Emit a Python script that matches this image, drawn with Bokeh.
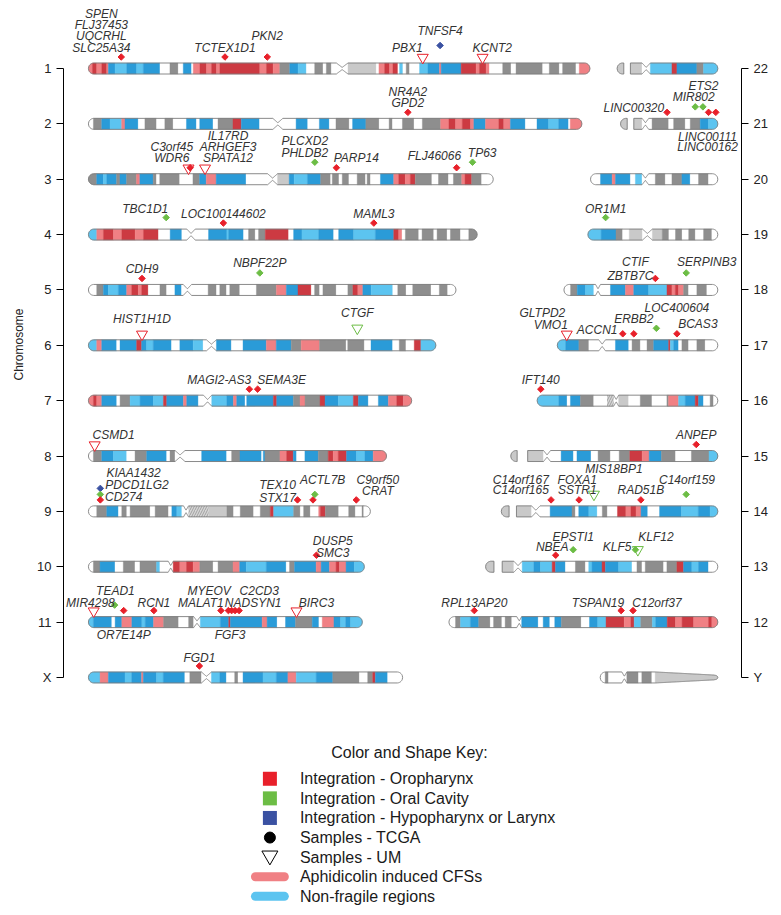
import math
from bokeh.plotting import figure
from bokeh.models import Range1d, FixedTicker, LinearAxis, ColumnDataSource, Title
from bokeh.core.properties import value
from bokeh.embed import file_html
from bokeh.resources import INLINE

# ---------------- data ----------------
LEFT_CHROMS = ["1", "2", "3", "4", "5", "6", "7", "8", "9", "10", "11", "X"]
RIGHT_CHROMS = ["22", "21", "20", "19", "18", "17", "16", "15", "14", "13", "12", "Y"]

CHROM_MB = {"1": 249.0, "2": 245.0, "3": 201.0, "4": 193.0, "5": 182.5, "6": 172.5,
            "7": 160.5, "8": 148.0, "9": 140.0, "10": 137.0, "11": 136.0, "X": 156.0,
            "12": 133.5, "13": 115.3, "14": 107.5, "15": 102.8, "16": 89.7, "17": 79.7,
            "18": 76.4, "19": 64.5, "20": 63.2, "21": 48.3, "22": 50.0, "Y": 58.4}

# band code + relative width (R/r fragile dark/light, B/b non-fragile dark/light,
# G/g grey, W white, C centromere, h hatched, t tapered heterochromatin, _ gap)
BANDS = {
    "1": "r12 R13 r15 R15 r5 B20 b35 B30 b20 B50 W30 G25 W15 B25 W5 r20 R20 r15 R15 r10 R120 r20 R20 r20 G30 B25 b25 W25 G25 W10 G15 W15 C35 g85 W8 r17 R15 r10 R15 W5 b10 W10 G10 W30 b25 B35 r5 B60 R45 r10 R20 r10 W40 G25 W15 G80 W20 G30 W10 G40 W10 r32",
    "2": "W15 G25 B25 b35 r10 B40 W20 G35 W25 G25 W40 B30 W10 B40 W15 G45 R25 B55 W40 C30 W40 B35 W35 B30 W20 G40 W10 B40 G40 W30 G10 W30 G35 W25 G55 r25 R20 r20 R25 r10 B35 r40 R15 r20 B45 W35 B35 b30 B30 W5 r35",
    "3": "G25 B20 b10 B30 G10 B20 G30 r10 B40 G10 W10 G60 W40 G20 B20 r30 B90 W65 C30 g35 B15 b40 B40 G30 W5 G20 W10 G20 W25 G25 W5 G10 W30 B40 r15 R20 r15 R15 G50 W20 G30 W15 G25 r10 R20 G30 W35",
    "4": "b25 r20 R30 r25 R40 r25 R45 W35 B35 W15 C25 W40 B55 b5 B45 W15 G20 W10 G20 R70 W15 B25 b50 B45 W15 B45 b65 B55 R15 r10 W10 G40 W10 G35 W10 G30 W10 G30 W25 G25",
    "5": "W25 G20 B15 b30 B25 r15 R20 r10 R20 W35 G20 W25 B20 W5 C25 W50 G25 W10 G20 W10 G30 W50 G60 r30 B35 R40 W10 G15 W10 G40 W35 G15 R15 r15 B25 b65 W15 G25 W20 G55 W25 G25 W25",
    "6": "b25 r15 B45 W10 B50 R15 B15 b20 B55 W25 B40 b30 W10 C30 B45 W35 B70 r30 B45 G30 r55 G80 W5 G50 W20 B65 W20 G20 W25 R20 b45",
    "7": "r15 R10 r15 B45 W10 G30 b30 B40 b30 R10 B50 r10 B35 W15 C25 b45 B20 r10 B25 W5 B80 R10 B50 G20 r15 G45 R15 B40 b45 R15 B30 W30 B30 r25 R20 r25",
    "8": "W15 G25 B35 b40 W25 G35 B60 W10 G15 C30 W50 B75 W15 G25 B65 W5 B5 G45 r20 R20 B10 W25 B40 G30 R15 r15 R25 B30 b25 B25 r40",
    "9": "W25 G30 B35 W10 G15 W10 G60 W15 G40 W10 B15 b15 W5 C15 h60 g55 G20 W20 G40 W20 G30 R10 b60 G20 W10 G20 W25 r5 R15 G40 W30 G20 W20 G5 W20",
    "10": "W15 G20 B45 W25 G35 W15 G50 b10 W25 C15 R20 r20 R20 r20 G40 W15 G45 r20 B20 b60 B60 W10 G15 B65 r15 B25 r20 R10 r20 B25 b30",
    "11": "b15 B55 W10 B20 r30 B30 b10 B25 r30 G45 W30 G15 C20 b60 B25 R5 B95 r15 B30 W25 B30 G50 B20 W10 r35 B20 b15 B15 b35",
    "X": "b35 r25 B50 b20 B30 r5 B40 b20 B65 W15 G35 C30 b25 B20 W25 G10 W15 B60 b40 B35 r25 b60 B50 G80 W25 G15 R8 B37 W45",
    "12": "W20 G15 b30 B25 G35 W10 G25 W10 G20 W15 C15 B50 W15 B20 W15 B20 G60 W25 B25 b25 R55 r20 R10 b20 G35 b10 B35 R25 r20 R35 r45 R10 r18",
    "13": "g25 _25 g35 C25 b35 B20 b35 R10 B30 W30 G30 W10 b10 B30 R10 B40 b40 W15 G15 W10 G55 W10 G30 R20 B25 b20 B30 W28",
    "14": "g23 _22 g45 C25 W30 B65 G10 W10 B30 b25 W15 G15 W30 R25 r15 R15 r15 B20 W35 B65 b50 B35 b23",
    "15": "g18 _30 g45 C20 W30 B35 W10 B40 W20 G35 W25 G30 R35 r20 B35 G40 W45 G50 b25",
    "16": "b65 B25 W10 B30 G40 W40 h20 C15 g30 W35 G35 W45 G5 r30 b20 B30 R10 B15 W20 G10 W13",
    "17": "b25 B40 G30 W30 C20 W30 B40 W10 G25 W20 G20 B45 R5 b10 B15 W10 G20 W25 G25 W38",
    "18": "W20 G20 B25 b25 W5 C15 W30 B45 r25 B45 b55 R15 r10 R10 r15 G15 W25 G30 W33",
    "19": "b40 B45 G20 W20 g40 C30 g30 G20 W20 G20 W20 G20 W25 G25 W18",
    "20": "W30 B35 r10 B45 W15 b20 C20 W20 G30 W20 G30 B25 W25 G30 W28",
    "21": "g20 _20 g25 C20 W10 G50 W15 G35 W15 G30 B25 b28",
    "22": "g20 _20 g35 C25 b65 R15 B60 G20 b43",
    "Y": "W15 G10 W40 C15 G35 W10 G30 W10 t188",
}

# integration sites: chromosome, position (Mb), tumour site, sample set
MK_CHROM = ["1", "1", "1", "1", "1", "1", "2", "3", "3", "3", "3", "3", "3", "3",
            "4", "4", "4", "5", "5", "6", "6", "7", "7", "8",
            "9", "9", "9", "9", "9", "9", "9", "10",
            "11", "11", "11", "11", "11", "11", "11", "11", "11", "11", "X",
            "21", "21", "21", "21", "21", "19", "18", "18",
            "17", "17", "17", "17", "17", "16", "15",
            "14", "14", "14", "14", "14", "13", "13", "13", "13", "12", "12", "12"]
MK_POS = [16.3, 67.8, 88.8, 166.0, 174.6, 195.7, 158.6, 49.7, 50.5, 57.9, 112.4, 123.1, 182.8, 190.7,
          38.6, 67.0, 141.7, 26.6, 85.1, 26.6, 133.5, 79.9, 84.0, 3.1,
          5.9, 5.9, 5.9, 103.8, 111.5, 112.4, 133.0, 113.2,
          2.6, 13.0, 17.5, 32.5, 65.8, 69.5, 71.1, 72.8, 74.8, 103.3, 55.1,
          23.1, 37.1, 40.9, 43.7, 47.3, 8.8, 45.4, 60.7,
          4.7, 32.5, 38.0, 49.2, 59.4, 1.8, 92.1,
          24.7, 38.6, 46.0, 69.3, 91.8, 34.8, 43.5, 74.4, 75.6, 12.6, 85.5, 91.4]
MK_SITE = ["OP", "OP", "OP", "OP", "HL", "OP", "OP", "OP", "OP", "OP", "OC", "OP", "OP", "OC",
           "OC", "OP", "OP", "OP", "OC", "OP", "OC", "OP", "OP", "OP",
           "HL", "OC", "OP", "OP", "OP", "OC", "OP", "OP",
           "OP", "OC", "OP", "OP", "OP", "OP", "OP", "OP", "OP", "OP", "OP",
           "OP", "OC", "OC", "OP", "OP", "OC", "OP", "OC",
           "OP", "OP", "OP", "OC", "OP", "OP", "OP",
           "OP", "OP", "OC", "OP", "OC", "OP", "OC", "OC", "OC", "OP", "OP", "OP"]
MK_SET = ["TCGA", "TCGA", "TCGA", "UM", "TCGA", "UM", "TCGA", "UM", "TCGA", "UM", "TCGA", "TCGA", "TCGA", "TCGA",
          "TCGA", "TCGA", "TCGA", "TCGA", "TCGA", "UM", "UM", "TCGA", "TCGA", "UM",
          "TCGA", "TCGA", "TCGA", "TCGA", "TCGA", "TCGA", "TCGA", "TCGA",
          "UM", "TCGA", "TCGA", "TCGA", "TCGA", "TCGA", "TCGA", "TCGA", "TCGA", "UM", "TCGA",
          "TCGA", "TCGA", "TCGA", "TCGA", "TCGA", "TCGA", "TCGA", "TCGA",
          "UM", "TCGA", "TCGA", "TCGA", "TCGA", "TCGA", "TCGA",
          "TCGA", "TCGA", "UM", "TCGA", "TCGA", "TCGA", "TCGA", "TCGA", "UM", "TCGA", "TCGA", "TCGA"]

# gene labels: chromosome, text, centre (Mb), stacking line (0 = first line above)
LB_CHROM = ["1", "1", "1", "1", "1", "1", "1", "1", "1",
            "2", "2", "3", "3", "3", "3", "3", "3", "3", "3", "3", "3",
            "4", "4", "4", "5", "5", "6", "6", "7", "7", "8",
            "9", "9", "9", "9", "9", "9", "9", "9", "10", "10",
            "11", "11", "11", "11", "11", "11", "11", "11", "11", "11", "X",
            "21", "21", "21", "21", "21", "19", "18", "18", "18",
            "17", "17", "17", "17", "17", "17", "16", "15",
            "14", "14", "14", "14", "14", "14", "14", "13", "13", "13", "13", "12", "12", "12"]
LB_TEXT = ["SPEN", "FLJ37453", "UQCRHL", "SLC25A34", "TCTEX1D1", "PKN2", "PBX1", "TNFSF4", "KCNT2",
           "NR4A2", "GPD2", "C3orf45", "WDR6", "IL17RD", "ARHGEF3", "SPATA12", "PLCXD2", "PHLDB2", "PARP14", "FLJ46066", "TP63",
           "TBC1D1", "LOC100144602", "MAML3", "CDH9", "NBPF22P", "HIST1H1D", "CTGF", "MAGI2-AS3", "SEMA3E", "CSMD1",
           "KIAA1432", "PDCD1LG2", "CD274", "TEX10", "STX17", "ACTL7B", "C9orf50", "CRAT", "DUSP5", "SMC3",
           "TEAD1", "MIR4298", "OR7E14P", "RCN1", "MYEOV", "MALAT1", "FGF3", "C2CD3", "NADSYN1", "BIRC3", "FGD1",
           "LINC00320", "ETS2", "MIR802", "LINC00111", "LINC00162", "OR1M1", "CTIF", "ZBTB7C", "SERPINB3",
           "GLTPD2", "VMO1", "ACCN1", "ERBB2", "LOC400604", "BCAS3", "IFT140", "ANPEP",
           "C14orf167", "C14orf165", "FOXA1", "SSTR1", "MIS18BP1", "RAD51B", "C14orf159",
           "NBEA", "EPSTI1", "KLF5", "KLF12", "RPL13AP20", "TSPAN19", "C12orf37"]
LB_X = [6.4, 6.4, 6.4, 6.4, 67.8, 88.8, 158.4, 174.6, 200.5,
        158.6, 158.6, 41.4, 41.4, 69.3, 69.3, 69.3, 107.4, 107.4, 133.0, 171.8, 195.5,
        28.2, 67.0, 141.7, 26.6, 85.1, 26.6, 133.5, 64.9, 95.9, 12.5,
        22.4, 24.1, 17.5, 93.9, 93.9, 116.3, 143.7, 143.7, 121.3, 121.3,
        13.4, 1.0, 17.5, 32.5, 59.9, 55.8, 70.3, 84.8, 81.8, 113.2, 55.1,
        6.6, 41.2, 36.3, 43.2, 43.2, 8.8, 35.5, 33.0, 70.9,
        -7.4, -3.2, 19.8, 38.0, 59.4, 69.8, 1.8, 92.1,
        9.7, 9.7, 37.7, 37.7, 55.9, 69.3, 92.2,
        33.1, 43.5, 65.3, 84.6, 12.6, 74.0, 103.3]
LB_LEVEL = [3, 2, 1, 0, 0, 1, 0, 1.5, 0,
            1, 0, 1, 0, 2, 1, 0, 1.5, 0.5, 0, 0.2, 0.5,
            0.4, 0, 0, 0, 0.5, 0.5, 1, 0, 0, 0,
            1.5, 0.45, -0.6, 0.5, -0.65, 0.9, 0.9, -0.05, 0.45, -0.65,
            0.85, -0.2, -3.0, -0.2, 0.85, -0.2, -3.0, 0.85, -0.2, -0.2, -0.1,
            -0.45, 1.45, 0.5, -3.0, -3.95, 0.4, 0.6, -0.6, 0.6,
            1.0, -0.1, -0.5, 0.5, 1.45, 0.0, 0, 0,
            0.9, 0, 0.9, 0, 1.9, 0, 0.9,
            -0.1, 0.8, -0.1, 0.8, -0.2, -0.2, -0.2]

LEGEND_TITLE = "Color and Shape Key:"
LEGEND_LABELS = ["Integration - Oropharynx", "Integration - Oral Cavity",
                 "Integration - Hypopharynx or Larynx", "Samples - TCGA", "Samples - UM",
                 "Aphidicolin induced CFSs", "Non-fragile regions"]

# ---------------- styles ----------------
BAND_COLORS = {"R": "#cc3a42", "r": "#f08084", "B": "#2a9bd8", "b": "#5cc4f0",
               "G": "#8e8e8e", "g": "#c9c9c9", "W": "#ffffff", "C": "#ffffff",
               "h": "#d6d6d6", "t": "#c9c9c9"}
SITE_COLORS = {"OP": "#e8202a", "OC": "#6cbd45", "HL": "#3a51a2"}
DIAMOND_OFF = {"OP": 11.5, "OC": 17.0, "HL": 23.0}   # px above chromosome axis
TRI_OFF = {"OP": 11.0, "OC": 17.0, "HL": 23.0}
FONT_NAME = "Liberation Sans"
FONT = value(FONT_NAME)

# ---------------- geometry ----------------
FIG_W, FIG_H = 771, 907
BORDER_L, BORDER_R = 61, 30
X_START, X_END = -12.38, 324.26
PX_ROW = 55.36
Y_TOP = 1 - 68.0 / PX_ROW
Y_BOTTOM = Y_TOP + FIG_H / PX_ROW
PX_MB = (FIG_W - BORDER_L - BORDER_R) / (X_END - X_START)
R_END = 312.5
HALF = 5.5 / PX_ROW
CAP = 5.6 / PX_MB


def parse_bands(spec):
    return [(tok[0], float(tok[1:])) for tok in spec.split()]


def chrom_segments(name):
    toks = parse_bands(BANDS[name])
    k = CHROM_MB[name] / sum(w for _, w in toks)
    segs, pos = [], 0.0
    for code, w in toks:
        segs.append((code, pos, pos + w * k))
        pos += w * k
    return segs


def half_height(x, length, cents, taper):
    f = 1.0
    if x < CAP:
        d = (CAP - x) / CAP
        f = min(f, math.sqrt(max(0.0, 1 - d * d)))
    if taper is None and x > length - CAP:
        d = (x - (length - CAP)) / CAP
        f = min(f, math.sqrt(max(0.0, 1 - d * d)))
    if taper is not None and x > taper[0]:
        t = (x - taper[0]) / (taper[1] - taper[0])
        f = min(f, 1 - 0.6 * t)
        if x > length - 0.6 * CAP:
            d = (x - (length - 0.6 * CAP)) / (0.6 * CAP)
            f = min(f, 0.4 * math.sqrt(max(0.0, 1 - d * d)))
    for a, b in cents:
        c, w = (a + b) / 2, (b - a) / 2
        if abs(x - c) < w:
            f = min(f, 0.2 + 0.8 * abs(x - c) / w)
    return f * HALF


def sample(a, b, regions):
    pts = {a, b}
    for u, v in regions:
        lo, hi = max(a, u), min(b, v)
        if hi > lo:
            n = max(2, int(math.ceil((hi - lo) / 0.2)))
            for i in range(n + 1):
                pts.add(lo + (hi - lo) * i / n)
    return sorted(pts)


band_src = dict(xs=[], ys=[], color=[])
hatch_src = dict(xs=[], ys=[], color=[])
out_src = dict(xs=[], ys=[])
row_of, off_of = {}, {}

for col, names in enumerate([LEFT_CHROMS, RIGHT_CHROMS]):
    for i, name in enumerate(names):
        row = i + 1
        L = CHROM_MB[name]
        off = 0.0 if col == 0 else R_END - L
        row_of[name], off_of[name] = row, off
        segs = chrom_segments(name)
        cents = [(a, b) for c, a, b in segs if c == "C"]
        tap = [(a, b) for c, a, b in segs if c == "t"]
        taper = tap[0] if tap else None
        regions = [(0, CAP)] + cents
        regions += [taper, (L - CAP, L)] if taper else [(L - CAP, L)]

        def poly(a, b):
            xs = sample(a, b, regions)
            px = [x + off for x in xs] + [x + off for x in reversed(xs)]
            py = [row - half_height(x, L, cents, taper) for x in xs] + \
                 [row + half_height(x, L, cents, taper) for x in reversed(xs)]
            return px, py

        pieces, start = [], 0.0
        for code, a, b in segs:
            if code == "_":
                pieces.append((start, a))
                start = b
                continue
            px, py = poly(a, b)
            tgt = hatch_src if code == "h" else band_src
            tgt["xs"].append(px)
            tgt["ys"].append(py)
            tgt["color"].append(BAND_COLORS[code])
        pieces.append((start, L))
        for a, b in pieces:
            px, py = poly(a, b)
            out_src["xs"].append(px)
            out_src["ys"].append(py)

p = figure(width=FIG_W, height=FIG_H, output_backend="svg", toolbar_location=None,
           x_range=Range1d(X_START, X_END), y_range=Range1d(Y_BOTTOM, Y_TOP),
           x_axis_type=None, y_axis_type=None, min_border_left=BORDER_L,
           min_border_right=BORDER_R, min_border_top=0, min_border_bottom=0)
p.outline_line_color = None
p.background_fill_color = "white"

p.patches("xs", "ys", source=ColumnDataSource(band_src), fill_color="color",
          line_color="color", line_width=0.4)
p.patches("xs", "ys", source=ColumnDataSource(hatch_src), fill_color="color",
          line_color=None, hatch_pattern="right_diagonal_line", hatch_color="#8a8a8a",
          hatch_scale=5, hatch_weight=0.7)
p.patches("xs", "ys", source=ColumnDataSource(out_src), fill_color=None,
          line_color="#7d7d7d", line_width=0.9)

# markers
tri = dict(x=[], y=[], c=[])
dia = dict(x=[], y=[], c=[])
for ch, pos, site, sset in zip(MK_CHROM, MK_POS, MK_SITE, MK_SET):
    gx = pos + off_of[ch]
    if sset == "UM":
        tri["x"].append(gx)
        tri["y"].append(row_of[ch] - TRI_OFF[site] / PX_ROW)
        tri["c"].append(SITE_COLORS[site])
    else:
        dia["x"].append(gx)
        dia["y"].append(row_of[ch] - DIAMOND_OFF[site] / PX_ROW)
        dia["c"].append(SITE_COLORS[site])

p.scatter("x", "y", source=ColumnDataSource(tri), marker="inverted_triangle", size=11,
          fill_color="white", line_color="c", line_width=1)
p.scatter("x", "y", source=ColumnDataSource(dia), marker="square", angle=math.pi / 4,
          size=4.6, fill_color="c", line_color="c", line_width=1)

# gene labels
lab = dict(x=[], y=[], t=[])
for ch, txt, lx, lv in zip(LB_CHROM, LB_TEXT, LB_X, LB_LEVEL):
    lab["x"].append(lx + off_of[ch])
    lab["y"].append(row_of[ch] - (21 + 11.3 * lv) / PX_ROW)
    lab["t"].append(txt)
p.text("x", "y", text="t", source=ColumnDataSource(lab), text_align="center",
       text_baseline="middle", text_font=FONT, text_font_style="italic",
       text_font_size="12px", text_color="#333333")

# axes
for names, side in [(LEFT_CHROMS, "left"), (RIGHT_CHROMS, "right")]:
    ax = LinearAxis(ticker=FixedTicker(ticks=list(range(1, len(names) + 1))),
                    major_label_overrides={i + 1: n for i, n in enumerate(names)},
                    bounds=(1, len(names)))
    ax.major_tick_out = 7
    ax.major_tick_in = 0
    ax.minor_tick_out = 0
    ax.minor_tick_in = 0
    ax.axis_line_color = "black"
    ax.major_tick_line_color = "black"
    ax.major_label_text_font = FONT_NAME
    ax.major_label_text_font_size = "13px"
    ax.major_label_text_color = "#222222"
    ax.major_label_standoff = 5
    p.add_layout(ax, side)

# y-axis title: its upper end placed where the original's sits
ytitle = Title(text="Chromosome", align="right", offset=308,
               text_font=FONT_NAME, text_font_size="12px", text_font_style="normal",
               text_color="#222222", standoff=18)
p.add_layout(ytitle, "left")

# legend (Color and Shape Key)
LEG_TITLE_X, LEG_TITLE_Y = 159.4, 13.36
LEG_SYM_X, LEG_TXT_X = 90.1, 105.0
LEG_Y0, LEG_DY = 13.83, 0.354
ly = [LEG_Y0 + k * LEG_DY for k in range(len(LEGEND_LABELS))]
p.text([LEG_TITLE_X], [LEG_TITLE_Y], text=[LEGEND_TITLE], text_align="center",
       text_baseline="middle", text_font=FONT, text_font_size="16px", text_color="#1a1a1a")
p.text([LEG_TXT_X] * len(LEGEND_LABELS), ly, text=LEGEND_LABELS, text_align="left",
       text_baseline="middle", text_font=FONT, text_font_size="16px", text_color="#1a1a1a")
p.scatter([LEG_SYM_X] * 3, ly[0:3], marker="square", size=14,
          fill_color=[SITE_COLORS["OP"], SITE_COLORS["OC"], SITE_COLORS["HL"]], line_color=None)
p.scatter([LEG_SYM_X], [ly[3]], marker="circle", size=11, fill_color="black", line_color="black")
p.scatter([LEG_SYM_X], [ly[4] - 1.5 / PX_ROW], marker="inverted_triangle", size=16,
          fill_color="white", line_color="black", line_width=1)
half_pill = 14.5 / PX_MB
p.segment([LEG_SYM_X - half_pill] * 2, ly[5:7], [LEG_SYM_X + half_pill] * 2, ly[5:7],
          line_color=[BAND_COLORS["r"], BAND_COLORS["b"]], line_width=9, line_cap="round")

open("out.html", "w").write(file_html(p, INLINE))
